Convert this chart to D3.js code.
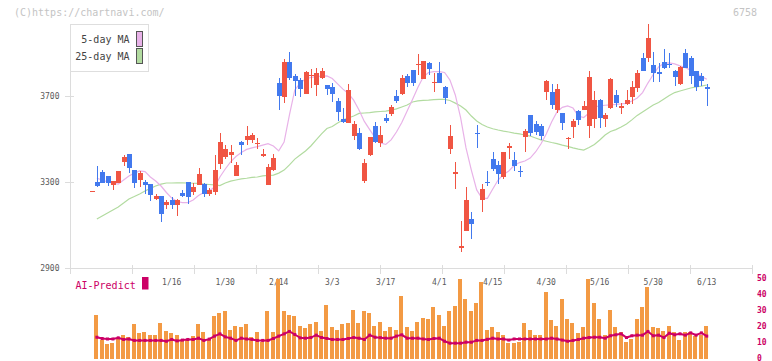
<!DOCTYPE html>
<html><head><meta charset="utf-8">
<script src="https://cdn.jsdelivr.net/npm/d3@7"></script>
<style>body{margin:0;background:#fff;overflow:hidden}svg{display:block}</style>
</head><body>
<svg id="c" width="772" height="361"></svg>
<script>
// ---- DATA ----
const dates = ["12/19","12/20","12/23","12/24","12/25","12/26","12/27","12/30",
"1/6","1/7","1/8","1/9","1/10","1/14","1/15","1/16","1/17","1/20","1/21","1/22","1/23","1/24","1/27","1/28","1/29","1/30","1/31",
"2/3","2/4","2/5","2/6","2/7","2/10","2/12","2/13","2/14","2/17","2/18","2/19","2/20","2/21","2/25","2/26","2/27","2/28",
"3/3","3/4","3/5","3/6","3/7","3/10","3/11","3/12","3/13","3/14","3/17","3/18","3/19","3/21","3/24","3/25","3/26","3/27","3/28","3/31",
"4/1","4/2","4/3","4/4","4/7","4/8","4/9","4/10","4/11","4/14","4/15","4/16","4/17","4/18","4/21","4/22","4/23","4/24","4/25","4/28","4/30",
"5/1","5/2","5/7","5/8","5/9","5/12","5/13","5/14","5/15","5/16","5/19","5/20","5/21","5/22","5/23","5/26","5/27","5/28","5/29","5/30",
"6/2","6/3","6/4","6/5","6/6","6/9","6/10","6/11","6/12","6/13"];
const openP = [3257,3300,3345,3328,3288,3297,3395,3431,3356,3310,3302,3290,3222,3236,3195,3217,3195,3248,3301,3254,3287,3290,3245,3253,3384,3418,3427,3330,3486,3495,3495,3479,3423,3288,3356,
3762,3697,3858,3793,3774,3709,3793,3751,3782,3751,3743,3677,3593,3573,3516,3527,3307,3426,3561,3480,3596,3616,3700,3709,3793,3821,3846,3780,3855,3762,
3808,3743,3454,3338,2994,3075,3129,3529,3217,3301,3406,3380,3325,3460,3403,3354,3508,3612,3571,3560,3719,
3720,3634,3621,3500,3554,3632,3635,3560,3594,3681,3594,3645,3705,3646,3661,3694,3735,3878,3878,3843,
3813,3859,3850,3817,3755,3901,3878,3816,3793,3743];
const highP = [3259,3375,3356,3330,3306,3354,3426,3433,3358,3352,3310,3292,3245,3238,3217,3230,3220,3263,3303,3295,3367,3297,3271,3426,3530,3472,3472,3395,3492,3562,3530,3503,3454,3384,3431,
3783,3872,3903,3800,3784,3815,3824,3828,3828,3752,3759,3689,3642,3756,3584,3550,3407,3510,3581,3561,3616,3658,3728,3798,3800,3823,3895,3864,3858,3808,
3858,3745,3565,3395,3121,3276,3161,3565,3291,3352,3438,3398,3440,3483,3440,3376,3545,3614,3584,3568,3774,
3755,3755,3623,3511,3595,3634,3677,3816,3723,3686,3619,3785,3728,3667,3728,3769,3821,3901,4034,3903,
3852,3918,3898,3819,3840,3918,3887,3816,3808,3755];
const lowP = [3255,3279,3295,3283,3263,3295,3375,3344,3274,3279,3243,3214,3217,3116,3174,3175,3144,3230,3197,3240,3285,3232,3237,3240,3360,3406,3387,3330,3426,3472,3481,3452,3418,3288,3353,
3635,3666,3774,3700,3694,3709,3736,3700,3777,3703,3674,3584,3573,3573,3496,3449,3294,3421,3480,3462,3573,3607,3669,3705,3743,3747,3798,3777,3798,3720,
3759,3661,3431,3268,2977,3073,3036,3457,3163,3282,3352,3290,3316,3406,3352,3325,3441,3514,3519,3496,3681,
3640,3621,3542,3455,3503,3565,3633,3506,3553,3553,3557,3640,3650,3615,3660,3661,3720,3817,3859,3766,
3766,3825,3831,3746,3750,3829,3757,3725,3748,3653];
const closeP = [3258,3282,3297,3297,3305,3352,3418,3367,3297,3344,3287,3240,3236,3152,3206,3195,3217,3236,3230,3277,3338,3245,3263,3356,3486,3455,3441,3380,3472,3514,3519,3481,3432,3370,3412,
3700,3858,3783,3771,3731,3811,3799,3808,3816,3732,3709,3627,3580,3728,3570,3454,3387,3508,3488,3519,3585,3650,3677,3785,3762,3762,3850,3862,3827,3766,
3762,3689,3514,3347,3005,3217,3107,3525,3268,3296,3359,3338,3438,3468,3376,3346,3539,3527,3531,3516,3769,
3658,3733,3575,3504,3584,3589,3654,3787,3681,3599,3612,3779,3669,3653,3681,3743,3808,3817,3971,3808,
3801,3831,3845,3787,3836,3831,3794,3743,3770,3734];
const ma5 = [null,3318,3310,3301,3295,3291,3310,3329,3342,3352,3349,3324,3305,3282,3252,3226,3210,3205,3205,3217,3238,3252,3259,3277,3324,3361,3394,3419,3438,3452,3459,3465,3472,3479,3468,
3445,3486,3612,3728,3760,3779,3786,3790,3792,3793,3781,3756,3732,3712,3681,3635,3582,3544,3507,3482,3475,3496,3533,3577,3630,3684,3739,3788,3809,3813,
3813,3809,3774,3705,3598,3459,3356,3264,3225,3225,3268,3310,3336,3352,3377,3391,3398,3412,3440,3477,3524,
3579,3626,3647,3654,3644,3607,3600,3621,3649,3654,3657,3659,3661,3663,3666,3677,3691,3716,3760,3800,
3835,3852,3854,3849,3840,3832,3819,3804,3791,3778];
const ma25 = [null,3129,3143,3157,3171,3185,3203,3222,3233,3245,3259,3271,3282,3291,3296,3296,3297,3297,3296,3295,3294,3291,3289,3287,3284,3296,3305,3310,3315,3318,3322,3324,3329,3331,3333,
3342,3356,3380,3407,3426,3445,3468,3496,3524,3549,3558,3575,3589,3598,3607,3619,3621,3623,3626,3628,3630,3634,3640,3649,3658,3672,3677,3680,3681,3683,
3684,3684,3679,3667,3654,3635,3607,3584,3568,3556,3548,3542,3537,3533,3528,3524,3519,3514,3505,3496,3490,
3484,3479,3472,3466,3459,3453,3449,3461,3475,3496,3519,3535,3544,3556,3570,3589,3610,3626,3642,3658,
3670,3686,3702,3716,3723,3730,3737,3742,3746,3751];
const aiBars = [null,27.5,11.3,8.8,9.6,12.3,15,13.3,21.3,15.8,16.5,15,15,22,16.9,15.8,15,11.3,11.3,13.8,21.3,16.5,12.3,26.3,28.5,29.4,18.1,20.6,20,21.3,13.3,16.5,10.2,29.6,16.5,
49.4,30,27.5,26.5,20.6,19,21.3,23.1,17.5,33.3,20,18.1,21.3,22,30.6,22,29.6,28.3,20.6,23.1,17.5,19.6,18.1,38.8,20,16.9,23.1,25.2,24.4,32.5,
26.9,20.6,29.6,32.7,49.4,37.5,29.4,35,48.1,18.1,20,16.5,14.4,9.6,9.6,10.6,22,18.1,15,15,41.3,
23.8,20.6,37.5,24.4,22,15.8,19.4,49.4,34.4,25,15,30.6,19.4,16.3,10.2,12.5,25,32.5,45,20,
18.8,17.5,20.6,16.5,11.3,16.5,16.3,13.9,14.4,20.6];
const aiLine = [null,13.3,12.5,12.2,12.2,12.9,11.9,12.2,11.3,11.3,11.3,11.3,11.3,11.3,10.8,11.9,11,11.5,11.9,11.9,12.7,11.3,12.1,14,15.4,13.5,12.7,11.3,12.7,12.2,11.9,11.3,11.3,11.3,12.5,
14,15.4,16.9,15,12.9,12.7,13.1,14.6,13.1,12.5,11.9,11.9,11.9,12.5,13.1,12.7,11.9,14.6,13.3,13,12.7,12.7,14,14.8,12.7,12.7,12.7,12.2,11.9,12.5,
12.7,10.8,9.6,9.6,9.6,10.2,10.2,11.3,11.3,12,12.7,12.2,12.2,11.5,12.2,12.2,12.2,12.2,12.2,12.2,12.2,
12.7,12.2,11.5,10.8,11.3,11.9,12.7,13.1,13.3,13.3,12.7,14.2,14.8,15.4,13.1,14.2,14.6,14.6,16.9,14.2,
14.6,13.1,15.8,14.8,15.4,14.6,16,14.6,16,14];
const yTicks = [2900, 3300, 3700];
const xTickLabels = ["1/16","1/30","2/14","3/3","3/17","4/1","4/15","4/30","5/16","5/30","6/13"];
const aiTicks = [0, 10, 20, 30, 40, 50];
const legendItems = ["5-day MA", "25-day MA"];

// ---- CHART ----
const C = {up:"#f05543", down:"#4279ee", ma5:"#e8b2e8", ma25:"#b2dba0", bar:"#f39a44", ai:"#cc0066", axis:"#dcdcdc", txt:"#5a5a5a"};
const FONT = "'DejaVu Sans Mono', monospace";
const svg = d3.select("#c");
const n = closeP.length;
const x = d3.scaleLinear().domain([0, n - 1]).range([91.5, 706.75]);
const y = d3.scaleLinear().domain([2900, 3700]).range([268.3, 96]);
const yb = d3.scaleLinear().domain([0, 50]).range([358.5, 278.5]);
const grid = d3.scaleLinear().domain([0, 11]).range([70, 752]);
const idx = d3.range(n);

// header texts
svg.append("text").attr("x", 14).attr("y", 16).attr("font-family", FONT).attr("font-size", 10)
  .attr("fill", "#c4c4c4").text("(C)https://chartnavi.com/");
svg.append("text").attr("x", 757).attr("y", 16).attr("text-anchor", "end").attr("font-family", FONT)
  .attr("font-size", 10).attr("fill", "#c4c4c4").text("6758");

// axes
const ax = svg.append("g").attr("stroke", C.axis).attr("shape-rendering", "crispEdges");
ax.append("line").attr("x1", 70.5).attr("x2", 70.5).attr("y1", 24).attr("y2", Math.round(y(2900)) + 0.5);
ax.append("line").attr("x1", 70).attr("x2", 752).attr("y1", Math.round(y(2900)) + 0.5).attr("y2", Math.round(y(2900)) + 0.5);
ax.selectAll("line.yt").data(yTicks).join("line").attr("class", "yt")
  .attr("x1", 65).attr("x2", 74).attr("y1", d => Math.round(y(d)) + 0.5).attr("y2", d => Math.round(y(d)) + 0.5);
ax.selectAll("line.xt").data(d3.range(0, 12)).join("line").attr("class", "xt")
  .attr("x1", d => Math.round(grid(d)) + 0.5).attr("x2", d => Math.round(grid(d)) + 0.5)
  .attr("y1", 265).attr("y2", 274);

svg.selectAll("text.yl").data(yTicks).join("text").attr("class", "yl")
  .attr("x", 59.5).attr("y", d => y(d) + 3).attr("text-anchor", "end")
  .attr("font-family", FONT).attr("font-size", 8).attr("fill", C.txt).text(d => d);

svg.selectAll("text.xl").data(xTickLabels).join("text").attr("class", "xl")
  .attr("x", d => x(dates.indexOf(d))).attr("y", 285).attr("text-anchor", "middle")
  .attr("font-family", FONT).attr("font-size", 8).attr("fill", C.txt).text(d => d);

// moving averages
const lineGen = arr => d3.line().defined(i => arr[i] != null).x(i => x(i)).y(i => y(arr[i]));
svg.append("path").attr("d", lineGen(ma25)(idx)).attr("fill", "none").attr("stroke", C.ma25).attr("stroke-width", 1.2);
svg.append("path").attr("d", lineGen(ma5)(idx)).attr("fill", "none").attr("stroke", C.ma5).attr("stroke-width", 1.2);

// candles
const cg = svg.append("g").attr("shape-rendering", "crispEdges");
const col = i => closeP[i] >= openP[i] ? C.up : C.down;
cg.selectAll("line.w").data(idx).join("line").attr("class", "w")
  .attr("x1", i => Math.round(x(i)) + 0.5).attr("x2", i => Math.round(x(i)) + 0.5)
  .attr("y1", i => y(highP[i])).attr("y2", i => y(lowP[i])).attr("stroke", col);
cg.selectAll("rect.b").data(idx).join("rect").attr("class", "b")
  .attr("x", i => Math.round(x(i)) - 2).attr("width", 5)
  .attr("y", i => y(Math.max(openP[i], closeP[i])))
  .attr("height", i => Math.max(1.2, Math.abs(y(openP[i]) - y(closeP[i]))))
  .attr("fill", col);

// legend
const lg = svg.append("g");
lg.append("rect").attr("x", 70.5).attr("y", 24.5).attr("width", 78).attr("height", 47)
  .attr("fill", "#fff").attr("stroke", "#dedede").attr("shape-rendering", "crispEdges");
lg.selectAll("text").data(legendItems).join("text")
  .attr("x", 129.5).attr("y", (d, i) => 43 + i * 17.4).attr("text-anchor", "end")
  .attr("font-family", FONT).attr("font-size", 10).attr("fill", "#444").text(d => d);
lg.selectAll("rect.sw").data([C.ma5, C.ma25]).join("rect").attr("class", "sw")
  .attr("x", 136.5).attr("y", (d, i) => 31.5 + i * 17).attr("width", 6).attr("height", 15)
  .attr("fill", d => d).attr("stroke", "#555").attr("shape-rendering", "crispEdges");

// AI-Predict panel
svg.append("text").attr("x", 75.5).attr("y", 289).attr("font-family", FONT).attr("font-size", 10)
  .attr("fill", C.ai).text("AI-Predict");
svg.append("rect").attr("x", 142).attr("y", 277).attr("width", 6.5).attr("height", 12.5).attr("fill", C.ai);

const bi = idx.filter(i => aiBars[i] != null);
svg.append("g").attr("shape-rendering", "crispEdges").selectAll("rect").data(bi).join("rect")
  .attr("x", i => Math.round(x(i) - 2.6)).attr("width", 4)
  .attr("y", i => yb(aiBars[i])).attr("height", i => yb(0) - yb(aiBars[i])).attr("fill", C.bar);

svg.append("path").attr("d", d3.line().x(i => x(i)).y(i => yb(aiLine[i]))(bi))
  .attr("fill", "none").attr("stroke", C.ai).attr("stroke-width", 2);
svg.append("g").selectAll("rect").data(bi).join("rect")
  .attr("x", i => x(i) - 1.5).attr("y", i => yb(aiLine[i]) - 1.5).attr("width", 3).attr("height", 3).attr("fill", C.ai);

svg.selectAll("text.al").data(aiTicks).join("text").attr("class", "al")
  .attr("x", 757).attr("y", d => yb(d) + 2).attr("font-family", FONT).attr("font-size", 8)
  .attr("font-weight", "bold").attr("fill", C.ai).text(d => d);
</script>
</body></html>
